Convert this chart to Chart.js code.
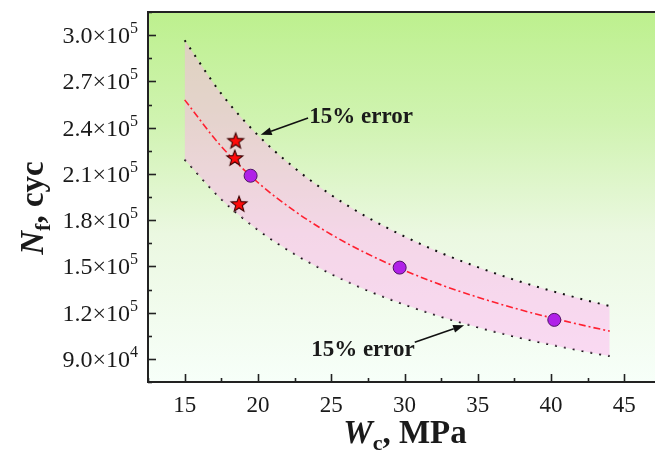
<!DOCTYPE html>
<html><head><meta charset="utf-8">
<script src="https://cdn.jsdelivr.net/npm/chart.js@4/dist/chart.umd.min.js"></script>
<style>html,body{margin:0;padding:0;background:#fff;overflow:hidden;width:655px;height:454px}canvas{display:block}</style>
</head><body><canvas id="c" width="670" height="454" style="width:670px;height:454px"></canvas>
<script>
// ---- data ----
const starW = [18.48, 18.42, 18.71];
const starN = [231500, 220300, 190500];
const circW = [19.5, 29.67, 40.22];
const circN = [208800, 149200, 115300];
const fitW = [15, 17.5, 20, 22.5, 25, 27.5, 30, 32.5, 35, 37.5, 40, 42.5, 44];
const fitN = [258000, 227800, 204400, 185900, 170700, 158000, 147300, 138000, 130000, 122900, 116700, 111100, 108000];
const upperN = [296700, 262000, 235100, 213800, 196300, 181700, 169400, 158700, 149500, 141300, 134200, 127800, 124200];
const lowerN = [219300, 193600, 173700, 158000, 145100, 134300, 125200, 117300, 110500, 104500, 99200, 94400, 91800];
const xTicks = [15, 20, 25, 30, 35, 40, 45];
const yTicks = [90000, 120000, 150000, 180000, 210000, 240000, 270000, 300000];
const yMant = ['9.0', '1.2', '1.5', '1.8', '2.1', '2.4', '2.7', '3.0'];
const yExp = ['4', '5', '5', '5', '5', '5', '5', '5'];
const noteText = ['15% error', '15% error'];

// annotation placement (data coordinates)
const notes = [
  {at: [23.5, 247600], from: [23.42, 246300], to: [20.19, 235300]},
  {at: [23.63, 96340], from: [30.70, 100860], to: [34.07, 111850]}
];

const SERIF = '"Liberation Serif","Times New Roman",serif';
const pts = (xs, ys) => xs.map((x, i) => ({x: x, y: ys[i]}));

// filled star marker
const starImg = document.createElement('canvas');
starImg.width = 20; starImg.height = 20;
(function () {
  const g = starImg.getContext('2d');
  g.beginPath();
  for (let i = 0; i < 10; i++) {
    const r = i % 2 === 0 ? 8.3 : 3.5;
    const a = -Math.PI / 2 + i * Math.PI / 5;
    const px = 10 + r * Math.cos(a), py = 10.5 + r * Math.sin(a);
    if (i === 0) g.moveTo(px, py); else g.lineTo(px, py);
  }
  g.closePath();
  g.fillStyle = '#ff0a0a'; g.fill();
  g.lineWidth = 1.1; g.strokeStyle = '#3a0000'; g.stroke();
})();

function rich(ctx, parts, x, y, align) {
  let w = 0;
  parts.forEach(p => { ctx.font = p.f; p.w = ctx.measureText(p.t).width; w += p.w; });
  let cx = align === 'center' ? x - w / 2 : align === 'right' ? x - w : x;
  ctx.textAlign = 'left'; ctx.textBaseline = 'alphabetic';
  parts.forEach(p => { ctx.font = p.f; ctx.fillText(p.t, cx, y + (p.dy || 0)); cx += p.w; });
}

const deco = {
  id: 'deco',
  beforeDraw(chart) {
    const {ctx, chartArea: a} = chart;
    ctx.save();
    ctx.fillStyle = '#fff';
    ctx.fillRect(0, 0, chart.width, chart.height);
    const g = ctx.createLinearGradient(0, a.top, 0, a.bottom);
    g.addColorStop(0, '#bdf08e');
    g.addColorStop(0.3, '#d0f3b1');
    g.addColorStop(0.6, '#ebf8e1');
    g.addColorStop(1, '#f7fff9');
    ctx.fillStyle = g;
    ctx.fillRect(a.left, a.top, a.right - a.left, a.bottom - a.top);
    ctx.restore();
  },
  afterDraw(chart) {
    const {ctx, chartArea: a, scales} = chart;
    const xs = scales.x, ys = scales.y;
    ctx.save();
    ctx.strokeStyle = '#222'; ctx.lineWidth = 2;
    ctx.strokeRect(a.left, a.top, a.right - a.left, a.bottom - a.top);
    ctx.lineWidth = 1.6;
    for (let v = 12.5; v <= 47.5; v += 2.5) {
      const px = Math.round(xs.getPixelForValue(v)) + 0.5;
      const len = (v % 5 === 0) ? 8 : 4;
      ctx.beginPath(); ctx.moveTo(px, a.bottom); ctx.lineTo(px, a.bottom - len); ctx.stroke();
    }
    for (let v = 75000; v <= 315000; v += 15000) {
      const py = Math.round(ys.getPixelForValue(v)) + 0.5;
      const len = (v % 30000 === 0) ? 8 : 4;
      ctx.beginPath(); ctx.moveTo(a.left, py); ctx.lineTo(a.left + len, py); ctx.stroke();
    }
    ctx.fillStyle = '#1a1a1a';
    xTicks.forEach(v => {
      rich(ctx, [{t: String(v), f: '23px ' + SERIF}], xs.getPixelForValue(v), 412, 'center');
    });
    yTicks.forEach((v, i) => {
      const py = ys.getPixelForValue(v);
      rich(ctx, [{t: yMant[i] + '\u00d710', f: '24px ' + SERIF}, {t: yExp[i], f: '16px ' + SERIF, dy: -10}], 138, py + 8, 'right');
    });
    rich(ctx, [
      {t: 'W', f: 'italic bold 33px ' + SERIF},
      {t: 'c', f: 'bold 22px ' + SERIF, dy: 7},
      {t: ', MPa', f: 'bold 33px ' + SERIF}
    ], 405, 443, 'center');
    ctx.save();
    ctx.translate(43, 208);
    ctx.rotate(-Math.PI / 2);
    rich(ctx, [
      {t: 'N', f: 'italic bold 33px ' + SERIF},
      {t: 'f', f: 'bold 22px ' + SERIF, dy: 7},
      {t: ', cyc', f: 'bold 33px ' + SERIF}
    ], 0, 0, 'center');
    ctx.restore();
    notes.forEach((n, i) => {
      const tx = xs.getPixelForValue(n.at[0]), ty = ys.getPixelForValue(n.at[1]);
      rich(ctx, [{t: noteText[i], f: 'bold 23px ' + SERIF}], tx, ty + 7, 'left');
      const x1 = xs.getPixelForValue(n.from[0]), y1 = ys.getPixelForValue(n.from[1]);
      const x2 = xs.getPixelForValue(n.to[0]), y2 = ys.getPixelForValue(n.to[1]);
      const ang = Math.atan2(y2 - y1, x2 - x1);
      const hl = 11, hw = 4;
      const bx = x2 - hl * Math.cos(ang), by = y2 - hl * Math.sin(ang);
      ctx.strokeStyle = '#111'; ctx.lineWidth = 1.6;
      ctx.beginPath(); ctx.moveTo(x1, y1); ctx.lineTo(bx, by); ctx.stroke();
      ctx.fillStyle = '#111';
      ctx.beginPath();
      ctx.moveTo(x2, y2);
      ctx.lineTo(bx + hw * Math.sin(ang), by - hw * Math.cos(ang));
      ctx.lineTo(bx - hw * Math.sin(ang), by + hw * Math.cos(ang));
      ctx.closePath(); ctx.fill();
      ctx.fillStyle = '#1a1a1a';
    });
    ctx.restore();
  }
};

new Chart(document.getElementById('c'), {
  type: 'line',
  data: {
    datasets: [
      {label: 'stars', data: pts(starW, starN), showLine: false, pointStyle: starImg, pointRadius: 8, pointHoverRadius: 8},
      {label: 'circles', data: pts(circW, circN), showLine: false, pointStyle: 'circle', pointRadius: 6.5,
        backgroundColor: '#b021e8', borderColor: '#4e1466', borderWidth: 1},
      {label: 'fit', data: pts(fitW, fitN), borderColor: '#ff2030', borderWidth: 1.6, borderDash: [7, 3, 2, 3],
        pointRadius: 0, cubicInterpolationMode: 'monotone', fill: false},
      {label: 'upper', data: pts(fitW, upperN), borderColor: '#111', borderWidth: 2, borderDash: [2, 7],
        pointRadius: 0, cubicInterpolationMode: 'monotone', fill: '+1', backgroundColor: 'rgba(255,175,240,0.46)'},
      {label: 'lower', data: pts(fitW, lowerN), borderColor: '#111', borderWidth: 2, borderDash: [2, 7],
        pointRadius: 0, cubicInterpolationMode: 'monotone', fill: false}
    ]
  },
  options: {
    responsive: false, animation: false, devicePixelRatio: 1,
    layout: {padding: {left: 148, top: 12, right: 3, bottom: 72}},
    plugins: {legend: {display: false}, tooltip: {enabled: false}},
    scales: {
      x: {type: 'linear', min: 12.5, max: 47.5, display: false},
      y: {type: 'linear', min: 75000, max: 315000, display: false}
    }
  },
  plugins: [deco]
});
</script>
</body></html>
